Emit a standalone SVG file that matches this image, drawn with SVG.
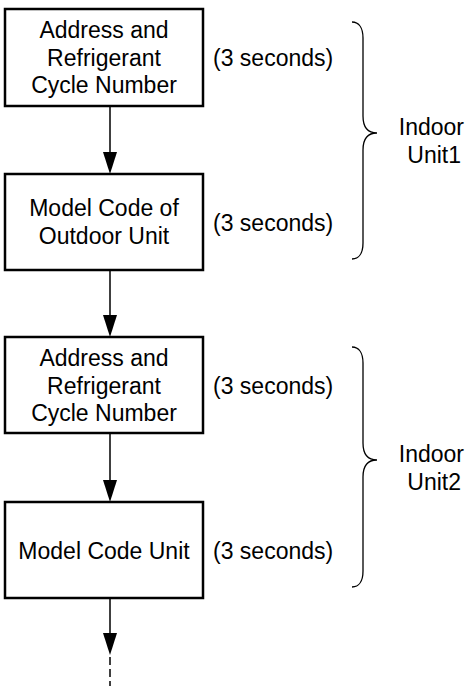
<svg xmlns="http://www.w3.org/2000/svg" width="470" height="686" viewBox="0 0 470 686">
<style>
.box{fill:#fff;stroke:#000;stroke-width:2.5}
text{font-family:"Liberation Sans",Arial,sans-serif;font-size:23px;fill:#000}
.c{text-anchor:middle}
.e{text-anchor:end}
.ln{stroke:#000;stroke-width:1.5;fill:none}
.br{stroke:#000;stroke-width:1.3;fill:none}
.ah{fill:#000}
</style>
<g id="connectors">
<line class="ln" x1="110" y1="106" x2="110" y2="154"/>
<line class="ln" x1="110" y1="270" x2="110" y2="317"/>
<line class="ln" x1="110" y1="433" x2="110" y2="482"/>
<line class="ln" x1="110" y1="598" x2="110" y2="635"/>
<line class="ln" x1="110" y1="657" x2="110" y2="686" stroke-dasharray="8,4"/>
<path class="ah" d="M103,152 L117,152 L110,174 Z"/>
<path class="ah" d="M103,315 L117,315 L110,337 Z"/>
<path class="ah" d="M103,480 L117,480 L110,502 Z"/>
<path class="ah" d="M103,633 L117,633 L110,655 Z"/>
</g>
<g id="node1">
<rect class="box" x="5" y="9" width="198" height="97"/>
<text class="c" x="104" y="38">Address and</text>
<text class="c" x="104" y="66">Refrigerant</text>
<text class="c" x="104" y="93">Cycle Number</text>
<text x="213" y="66">(3 seconds)</text>
</g>
<g id="node2">
<rect class="box" x="5" y="174" width="198" height="96"/>
<text class="c" x="104" y="216">Model Code of</text>
<text class="c" x="104" y="244">Outdoor Unit</text>
<text x="213" y="231">(3 seconds)</text>
</g>
<g id="node3">
<rect class="box" x="5" y="337" width="198" height="96"/>
<text class="c" x="104" y="366">Address and</text>
<text class="c" x="104" y="394">Refrigerant</text>
<text class="c" x="104" y="421">Cycle Number</text>
<text x="213" y="394">(3 seconds)</text>
</g>
<g id="node4">
<rect class="box" x="5" y="502" width="198" height="96"/>
<text class="c" x="104" y="559">Model Code Unit</text>
<text x="213" y="559">(3 seconds)</text>
</g>
<g id="group1">
<path class="br" d="M352,22 C359,22 363,28 363,38 L363,116 C363,126 367,133 377,133 C367,133 363,140 363,150 L363,243 C363,253 359,259 352,259"/>
<text class="e" x="464" y="135">Indoor</text>
<text class="e" x="461" y="163">Unit1</text>
</g>
<g id="group2">
<path class="br" d="M352,347 C359,347 363,353 363,363 L363,443 C363,453 367,460 377,460 C367,460 363,467 363,477 L363,571 C363,581 359,587 352,587"/>
<text class="e" x="464" y="462">Indoor</text>
<text class="e" x="461" y="490">Unit2</text>
</g>
</svg>
